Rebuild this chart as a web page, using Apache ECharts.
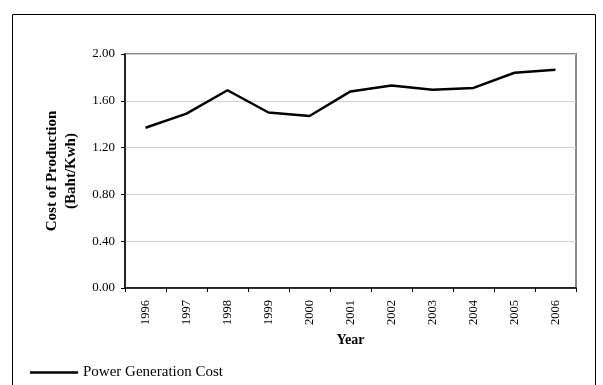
<!DOCTYPE html>
<html>
<head>
<meta charset="utf-8">
<script src="https://cdn.jsdelivr.net/npm/echarts@6/dist/echarts.min.js"></script>
<style>
  html, body { margin: 0; padding: 0; background: #fff; }
  #chart { width: 603px; height: 385px; }
</style>
</head>
<body>
<div id="chart"></div>
<script>
// Yearly power generation cost, Baht per kWh
const years = ['1996', '1997', '1998', '1999', '2000', '2001', '2002', '2003', '2004', '2005', '2006'];
const generationCost = [1.37, 1.49, 1.69, 1.50, 1.47, 1.68, 1.73, 1.695, 1.71, 1.84, 1.865];
const seriesName = 'Power Generation Cost';

const serif = '"Liberation Serif", "Times New Roman", serif';

const chart = echarts.init(document.getElementById('chart'), null, { renderer: 'canvas' });

chart.setOption({
  backgroundColor: '#ffffff',
  animation: false,
  textStyle: { fontFamily: serif, color: '#000' },
  graphic: [
    {
      // outer frame around the whole figure
      type: 'rect',
      shape: { x: 12.5, y: 14.5, width: 583, height: 400 },
      style: { fill: 'none', stroke: '#000', lineWidth: 1 },
      z: -1
    }
  ],
  grid: {
    left: 125, right: 27, top: 54, bottom: 97,
    show: true,
    borderColor: '#888888',
    borderWidth: 2,
    backgroundColor: 'transparent'
  },
  legend: {
    left: 25,
    top: 360,
    icon: 'rect',
    itemWidth: 48,
    itemHeight: 2.5,
    itemGap: 10,
    textStyle: { fontFamily: serif, fontSize: 15, color: '#000', padding: [0, 0, 0, 0] },
    data: [seriesName]
  },
  xAxis: {
    type: 'category',
    data: years,
    boundaryGap: true,
    name: 'Year',
    nameLocation: 'middle',
    nameGap: 43,
    nameTextStyle: { fontFamily: serif, fontWeight: 'bold', fontSize: 14, color: '#000' },
    axisLine: { lineStyle: { color: '#000', width: 1.5 } },
    axisTick: { show: true, length: 4, lineStyle: { color: '#000' } },
    axisLabel: { rotate: 90, margin: 12, fontFamily: serif, fontSize: 12.5, color: '#000' },
    splitLine: { show: false }
  },
  yAxis: {
    type: 'value',
    min: 0,
    max: 2,
    interval: 0.4,
    name: 'Cost of Production\n(Baht/Kwh)',
    nameLocation: 'middle',
    nameGap: 44,
    nameTextStyle: { fontFamily: serif, fontWeight: 'bold', fontSize: 15, color: '#000', lineHeight: 19 },
    axisLine: { show: true, lineStyle: { color: '#000', width: 1.5 } },
    axisTick: { show: true, length: 4, lineStyle: { color: '#000' } },
    axisLabel: {
      margin: 10,
      fontFamily: serif,
      fontSize: 13,
      color: '#000',
      formatter: v => v.toFixed(2)
    },
    splitLine: { show: true, lineStyle: { color: '#d0d0d0', width: 1 } }
  },
  series: [
    {
      name: seriesName,
      type: 'line',
      data: generationCost,
      symbol: 'none',
      lineStyle: { color: '#000', width: 2.5 },
      itemStyle: { color: '#000' }
    }
  ]
});
</script>
</body>
</html>
